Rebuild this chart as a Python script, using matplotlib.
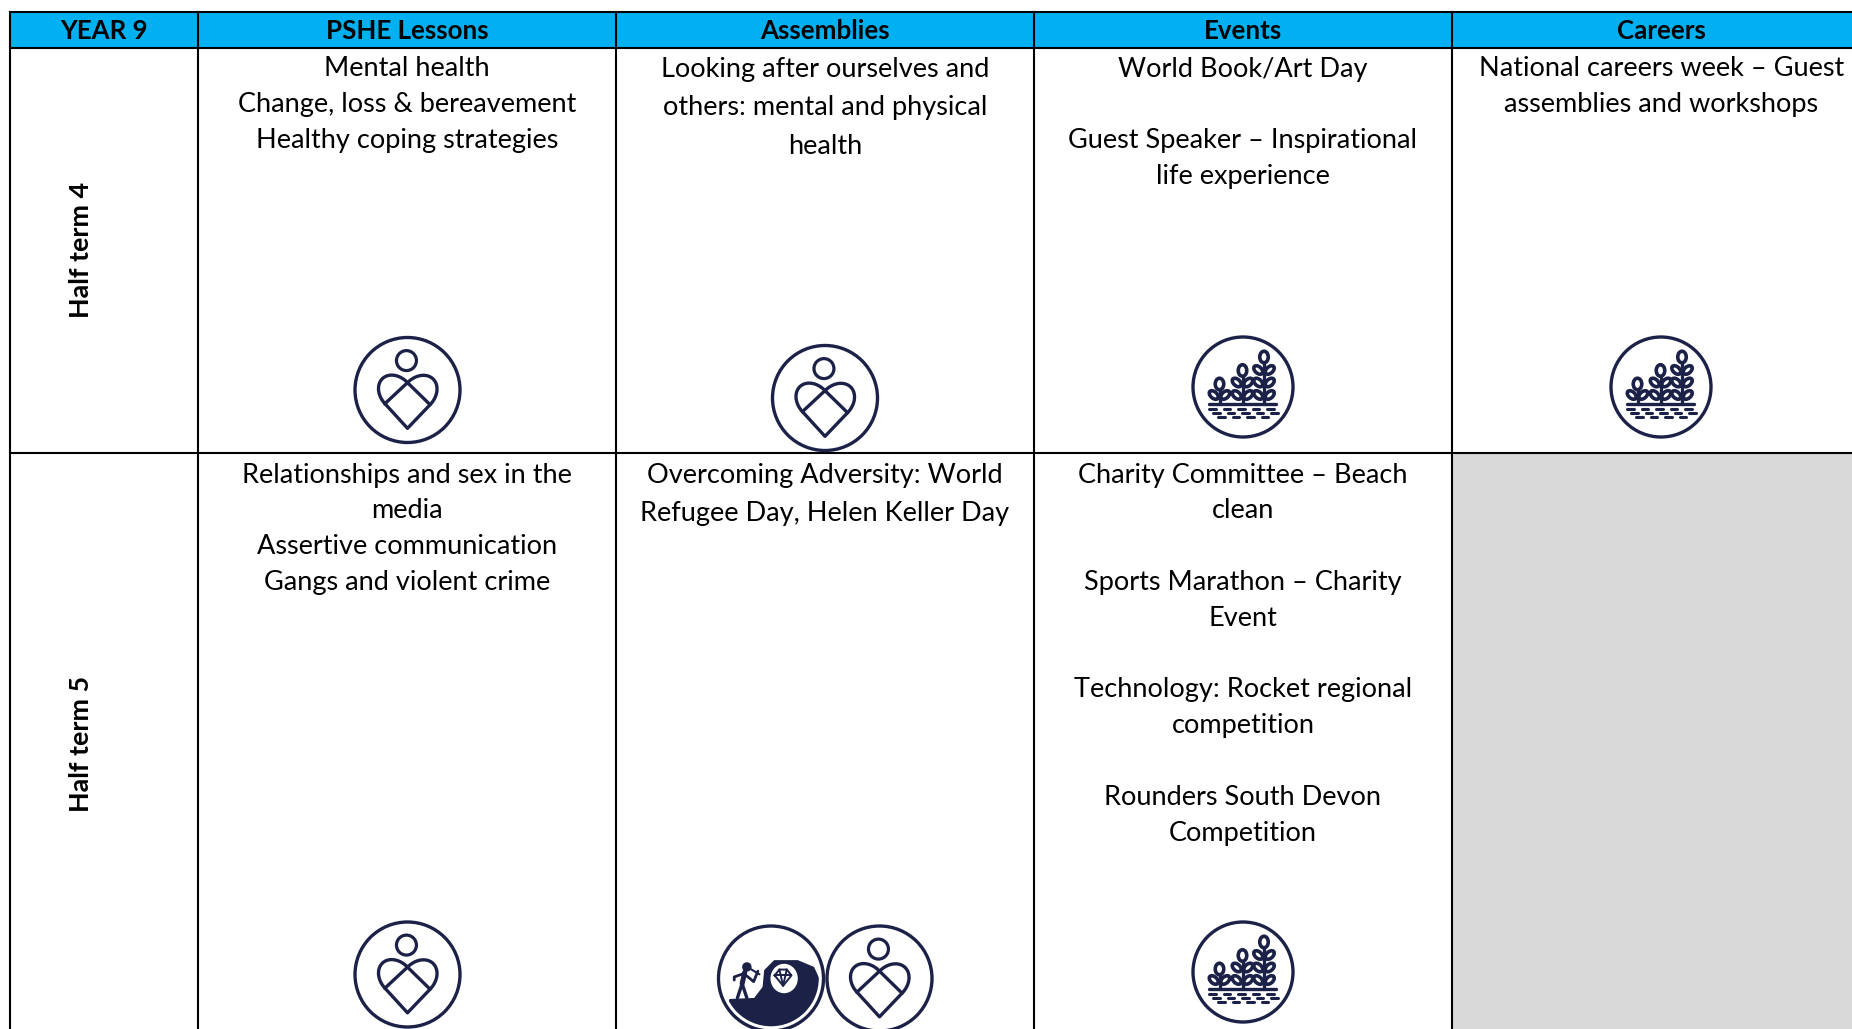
import matplotlib
matplotlib.use("Agg")
import matplotlib.pyplot as plt
from matplotlib.patches import Circle, Ellipse, Polygon, Rectangle
import numpy as np

W, H = 1852, 1029
NAVY = "#1b2147"

headers = ["YEAR 9", "PSHE Lessons", "Assemblies", "Events", "Careers"]
row_labels = ["Half term 4", "Half term 5"]

# one entry per line of text in the cell, "" is a blank line
ht4_pshe = ["Mental health", "Change, loss & bereavement", "Healthy coping strategies"]
ht4_assemblies = ["Looking after ourselves and", "others: mental and physical", "health"]
ht4_events = ["World Book/Art Day", "", "Guest Speaker \u2013 Inspirational", "life experience"]
ht4_careers = ["National careers week \u2013 Guest", "assemblies and workshops"]
ht5_pshe = ["Relationships and sex in the", "media", "Assertive communication", "Gangs and violent crime"]
ht5_assemblies = ["Overcoming Adversity: World", "Refugee Day, Helen Keller Day"]
ht5_events = ["Charity Committee \u2013 Beach", "clean", "", "Sports Marathon \u2013 Charity", "Event", "",
              "Technology: Rocket regional", "competition", "", "Rounders South Devon", "Competition"]

# table geometry in pixels
col_x = [10, 198, 616, 1034, 1452]
row_y = [12, 48, 453]
line_h = {"tight": 35.8, "assembly": 38.5}


def plot_line(ax, xs, ys, lw=2.4):
    ax.plot(xs, ys, color=NAVY, lw=lw, solid_capstyle="round", solid_joinstyle="round", zorder=3)


def ring(ax, cx, cy, r):
    ax.add_patch(Circle((cx, cy), r, fc="white", ec=NAVY, lw=2.4, zorder=2))


def lobe(ax, cx, cy, r, p0, p1):
    # bulged half circle on the edge p0-p1 of the diamond, on the outer side
    mx, my = (p0[0] + p1[0]) / 2, (p0[1] + p1[1]) / 2
    rad = np.hypot(p1[0] - p0[0], p1[1] - p0[1]) / 2
    ux, uy = (p0[0] - mx) / rad, (p0[1] - my) / rad
    t = np.linspace(0, np.pi, 40)
    xs = mx + rad * (ux * np.cos(t) + 1.3 * uy * np.sin(t))
    ys = my + rad * (uy * np.cos(t) - 1.3 * ux * np.sin(t))
    plot_line(ax, cx + r * xs, cy + r * ys)


def heart_icon(ax, cx, cy, r=52.5):
    ring(ax, cx, cy, r)
    ax.add_patch(Circle((cx - 0.02 * r, cy - 0.56 * r), 0.19 * r, fc="none", ec=NAVY, lw=2.3, zorder=3))
    top, left, bottom, right = (0, -0.14), (-0.43, 0.26), (0, 0.73), (0.43, 0.28)
    xs = [p[0] for p in (left, top, right, bottom, left)]
    ys = [p[1] for p in (left, top, right, bottom, left)]
    plot_line(ax, cx + r * np.array(xs), cy + r * np.array(ys))
    lobe(ax, cx, cy, r, top, left)
    lobe(ax, cx, cy, r, right, top)


def plant(ax, x, bottom, top, pairs, r):
    plot_line(ax, [x, x], [bottom, top + 0.1 * r], lw=2.4)
    ax.add_patch(Ellipse((x, top + 0.1 * r), 0.17 * r, 0.23 * r, fc="white", ec=NAVY, lw=2.6, zorder=4))
    for k in range(pairs):
        y = bottom - 0.17 * r - k * 0.25 * r
        for s in (-1, 1):
            ax.add_patch(Ellipse((x + s * 0.115 * r, y), 0.21 * r, 0.13 * r, angle=-s * 42, fc="white", ec=NAVY,
                                 lw=2.6, zorder=4))


def plants_icon(ax, cx, cy, r=50):
    ring(ax, cx, cy, r)
    g = cy + 0.33 * r
    plant(ax, cx - 0.47 * r, g, cy - 0.16 * r, 1, r)
    plant(ax, cx - 0.01 * r, g, cy - 0.43 * r, 2, r)
    plant(ax, cx + 0.42 * r, g, cy - 0.70 * r, 3, r)
    plot_line(ax, [cx - 0.69 * r, cx + 0.66 * r], [g, g], lw=2.4)
    for dy, start in ((0.43, -0.68), (0.51, -0.60), (0.59, -0.50)):
        for k in range(5):
            x0 = cx + (start + k * 0.29) * r
            if x0 + 0.13 * r < cx + 0.72 * r:
                plot_line(ax, [x0, x0 + 0.13 * r], [cy + dy * r, cy + dy * r], lw=2.2)


def mine_icon(ax, cx, cy, r=52.5):
    ring(ax, cx, cy, r)
    inner = Circle((cx, cy), 0.91 * r, transform=ax.transData)
    rock = [(-0.79, 0.39), (-0.32, 0.37), (-0.16, 0.16), (-0.13, -0.16), (0.06, -0.35), (0.51, -0.35), (0.82, -0.22),
            (0.92, 0.0), (1.0, 0.4), (1.0, 1.0), (-1.0, 1.0)]
    poly = Polygon([(cx + a * r, cy + b * r) for a, b in rock], fc=NAVY, ec="none", zorder=3)
    ax.add_patch(poly)
    poly.set_clip_path(inner)
    ax.add_patch(Ellipse((cx + 0.25 * r, cy), 0.52 * r, 0.56 * r, fc="white", ec="none", zorder=4))
    gem = [(-0.16, -0.04), (-0.07, -0.15), (0.07, -0.15), (0.16, -0.04), (0, 0.16), (-0.16, -0.04)]
    plot_line_z = dict(color=NAVY, lw=1.4, zorder=5)
    ax.plot([cx + (0.23 + a) * r for a, b in gem], [cy + (b - 0.02) * r for a, b in gem], **plot_line_z)
    ax.plot([cx + 0.07 * r, cx + 0.39 * r], [cy - 0.06 * r, cy - 0.06 * r], **plot_line_z)
    ax.plot([cx + 0.16 * r, cx + 0.23 * r, cx + 0.30 * r], [cy - 0.17 * r, cy + 0.14 * r, cy - 0.17 * r], **plot_line_z)
    ax.add_patch(Circle((cx - 0.46 * r, cy - 0.22 * r), 0.09 * r, fc=NAVY, ec="none", zorder=5))
    limbs = [([-0.50, -0.55], [-0.12, 0.10], 3.6), ([-0.55, -0.64], [0.10, 0.37], 2.4),
             ([-0.55, -0.46], [0.10, 0.37], 2.4), ([-0.50, -0.70, -0.70], [-0.10, -0.03, 0.03], 2.0),
             ([-0.50, -0.33, -0.25], [-0.08, 0.06, -0.14], 2.0), ([-0.42, -0.22], [-0.20, -0.08], 1.5)]
    for xs, ys, lw in limbs:
        ax.plot(cx + r * np.array(xs), cy + r * np.array(ys), color=NAVY, lw=lw, zorder=5, solid_capstyle="round")


def cell_text(ax, lines, x, y0, step, size=19.5):
    for i, line in enumerate(lines):
        if line:
            ax.text(x, y0 + i * step, line, ha="center", va="center", fontsize=size, color="black")


plt.rcParams["font.family"] = ["Lato", "DejaVu Sans"]

fig = plt.figure(figsize=(W / 100, H / 100), dpi=100)
ax = fig.add_axes([0, 0, 1, 1])
ax.set_xlim(0, W)
ax.set_ylim(H, 0)
ax.axis("off")

ax.add_patch(Rectangle((col_x[0], row_y[0]), W - col_x[0], row_y[1] - row_y[0], fc="#00b0f0", ec="none", zorder=0))
ax.add_patch(Rectangle((col_x[4], row_y[2]), W - col_x[4], H - row_y[2], fc="#d9d9d9", ec="none", zorder=0))

for x in col_x:
    ax.plot([x, x], [row_y[0], H], color="black", lw=1.5, zorder=1)
for y in row_y:
    ax.plot([col_x[0], W], [y, y], color="black", lw=1.5, zorder=1)

centres = [(col_x[i] + col_x[i + 1]) / 2 for i in range(4)] + [(col_x[4] + 1 + col_x[4] + 418) / 2]
for x, name in zip(centres, headers):
    ax.text(x, 31, name, ha="center", va="center", fontsize=18.6, fontweight="bold", color="black")

ax.text(81, 250, row_labels[0], rotation=90, ha="center", va="center", fontsize=19.4, fontweight="bold")
ax.text(81, 744, row_labels[1], rotation=90, ha="center", va="center", fontsize=19.4, fontweight="bold")

cell_text(ax, ht4_pshe, centres[1], 69, line_h["tight"])
cell_text(ax, ht4_assemblies, centres[2], 69, line_h["assembly"])
cell_text(ax, ht4_events, centres[3], 69, line_h["tight"])
cell_text(ax, ht4_careers, centres[4], 69, line_h["tight"])
cell_text(ax, ht5_pshe, centres[1], 475, line_h["tight"])
cell_text(ax, ht5_assemblies, centres[2], 475, line_h["assembly"])
cell_text(ax, ht5_events, centres[3], 475, line_h["tight"])

heart_icon(ax, 407.5, 390)
heart_icon(ax, 825, 398)
plants_icon(ax, 1243, 387)
plants_icon(ax, 1661, 387)
heart_icon(ax, 407.5, 974.5)
mine_icon(ax, 771, 978.5)
heart_icon(ax, 879.5, 978.5)
plants_icon(ax, 1243, 972)

fig.savefig("out.png", dpi=100, facecolor="white")
